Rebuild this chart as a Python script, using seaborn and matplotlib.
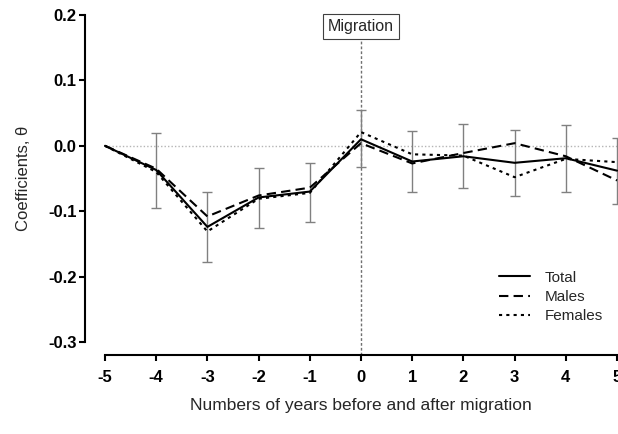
import matplotlib
matplotlib.use("Agg")
import matplotlib.pyplot as plt
import seaborn as sns
import pandas as pd
import numpy as np

years = [-5, -4, -3, -2, -1, 0, 1, 2, 3, 4, 5]
total = [0.0, -0.037, -0.124, -0.079, -0.070, 0.010, -0.024, -0.016, -0.026, -0.019, -0.038]
males = [0.0, -0.035, -0.108, -0.076, -0.064, 0.004, -0.027, -0.011, 0.004, -0.016, -0.053]
females = [0.0, -0.040, -0.131, -0.081, -0.072, 0.021, -0.013, -0.015, -0.048, -0.020, -0.025]
ci_low = [np.nan, -0.095, -0.177, -0.125, -0.116, -0.033, -0.070, -0.064, -0.077, -0.071, -0.089]
ci_high = [np.nan, 0.020, -0.071, -0.034, -0.026, 0.055, 0.023, 0.033, 0.024, 0.032, 0.012]
series_names = ["Total", "Males", "Females"]
yticks = [-0.3, -0.2, -0.1, 0.0, 0.1, 0.2]

sns.set_theme(style="ticks")
plt.rcParams['font.family'] = ['Liberation Sans', 'DejaVu Sans']

df = pd.DataFrame({
    "year": years * 3,
    "coef": total + males + females,
    "Series": [s for s in series_names for _ in years],
})

fig = plt.figure(figsize=(6.18, 4.34), dpi=100)
ax = fig.add_axes([105/618, 1 - 342/434, 512/618, 327/434])

# reference lines
ax.axhline(0, color="#b5b5b5", lw=1.0, ls=(0, (1, 1.5)), zorder=1)
ax.axvline(0, ymin=-13/327, ymax=(342-39)/327, color="#707070", lw=1.0,
           ls=(0, (2, 1.5)), clip_on=False, zorder=1)

# error bars around total
t = np.array(total)
lo = np.array(ci_low)
hi = np.array(ci_high)
ax.errorbar(years, t, yerr=[t - lo, hi - t], fmt="none", ecolor="#808080",
            elinewidth=1.0, capsize=3.6, capthick=1.0, zorder=2, clip_on=False)

sns.lineplot(data=df, x="year", y="coef", style="Series", color="black",
             dashes={"Total": "", "Males": (4.5, 2.5), "Females": (1.5, 2.0)},
             lw=1.5, ax=ax, zorder=3, style_order=series_names)
for ln in ax.get_lines():
    ln.set_clip_on(False)

ax.set_xlim(-5, 5)
ax.set_ylim(-0.3, 0.2)
ax.set_xticks(years)
ax.set_xticklabels([str(y) for y in years])
ax.set_yticks(yticks)
ax.set_yticklabels([f"{v:.1f}" for v in yticks])

for s in ["top", "right"]:
    ax.spines[s].set_visible(False)
ax.spines["left"].set_position(("outward", 14.4))
ax.spines["bottom"].set_position(("outward", 9.4))
for s in ["left", "bottom"]:
    ax.spines[s].set_linewidth(1.5)
    ax.spines[s].set_color("black")
ax.tick_params(axis="both", length=4, width=1.5, colors="black", labelsize=12)
ax.tick_params(axis="x", pad=7)
ax.tick_params(axis="y", pad=2)
for lab in ax.get_xticklabels() + ax.get_yticklabels():
    lab.set_fontweight("bold")

ax.set_xlabel("Numbers of years before and after migration", fontsize=12.5, labelpad=9)
ax.set_ylabel("Coefficients, \u03b8", fontsize=12, labelpad=12)

ax.text(0, 0.182, "Migration", ha="center", va="center", fontsize=11.5,
        bbox=dict(boxstyle="square,pad=0.3", fc="white", ec="#404040", lw=0.8))

leg = ax.legend(title=None, frameon=False, loc="lower right",
                bbox_to_anchor=(1.0, 0.015), fontsize=11, handlelength=2.0,
                labelspacing=0.35, handletextpad=1.0)

fig.savefig("out.png", dpi=100)
